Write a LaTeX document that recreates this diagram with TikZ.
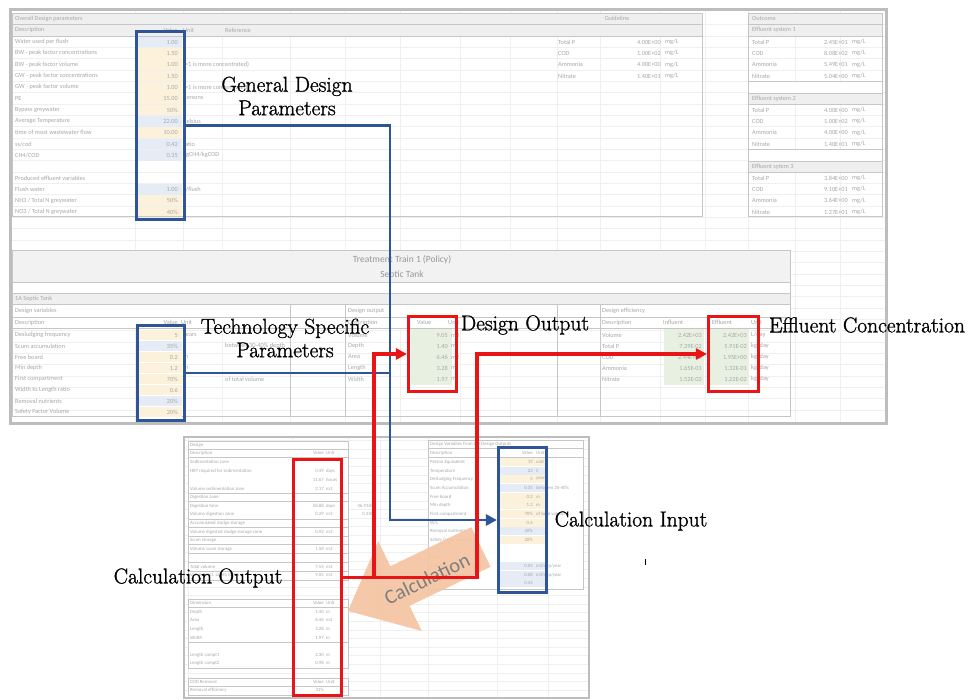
\documentclass[tikz,border=0pt]{standalone}
\usepackage{fontspec}
\usetikzlibrary{arrows.meta}
\newfontfamily\xl{Carlito}
\newfontfamily\lblfont{Latin Modern Roman}[FakeBold=1.2]
\definecolor{txt}{HTML}{A8A8A8}
\definecolor{hdr}{HTML}{EFEFEF}
\definecolor{bdr}{HTML}{C6C6C6}
\definecolor{frm}{HTML}{BDBDBD}
\definecolor{grd}{HTML}{EFEFEF}
\definecolor{yel}{HTML}{FCF1DA}
\definecolor{blu}{HTML}{E5ECF5}
\definecolor{grn}{HTML}{E8F1E1}
\definecolor{bluebox}{HTML}{2E5597}
\definecolor{redbox}{HTML}{E81416}
\definecolor{peach}{HTML}{F5C3A0}
\definecolor{calc}{HTML}{7E7E7E}
\newcommand\ra[4]{\node[cl] at (15,#1) {#2}; \node[cr] at (178,#1) {#3}; \node[cl] at (183,#1) {#4};}
\newcommand\rb[4]{\node[cls] at (190,#1) {#2}; \node[crs] at (324,#1) {#3}; \node[cls] at (326,#1) {#4};}
\newcommand\rc[4]{\node[cls] at (430,#1) {#2}; \node[crs] at (533,#1) {#3}; \node[cls] at (536,#1) {#4};}
\newcommand\ro[3]{\node[cl] at (752,#1) {#2}; \node[cr] at (848,#1) {#3}; \node[cl] at (852,#1) {mg/L};}
\begin{document}
\begin{tikzpicture}[x=1pt,y=-1pt,
  cl/.style={font=\xl\fontsize{6.3}{7}\selectfont,text=txt,inner sep=0pt,anchor=west},
  cr/.style={cl,anchor=east},
  cc/.style={cl,anchor=center},
  cls/.style={font=\xl\fontsize{4.8}{5}\selectfont,text=txt,inner sep=0pt,anchor=west},
  crs/.style={cls,anchor=east},
  grid/.style={draw=grd,line width=0.4pt},
  bd/.style={draw=bdr,line width=0.7pt},
  lbl/.style={font=\lblfont\fontsize{21.5}{23.5}\selectfont,text=black,align=center,inner sep=0pt},
  bbox/.style={draw=bluebox,line width=3.2pt,inner sep=0pt},
  rbox/.style={draw=redbox,line width=3.2pt,inner sep=0pt},
  bconn/.style={draw=bluebox,line width=2.8pt,-{Triangle[length=11pt,width=11pt]}},
  rconn/.style={draw=redbox,line width=3.2pt,-{Triangle[length=11pt,width=11pt]}},
  ]
\useasboundingbox (0,0) rectangle (968,700);
\fill[white] (0,0) rectangle (968,700);

% ===== main screenshot =====
\begin{scope}
\clip (11,11) rectangle (886,422);
\foreach \x in {135,183,222,290,345,400,460,510,557,600,660,705,748,795,840}
  \draw[grid] (\x,11) -- (\x,422);
\foreach \k in {0,...,34}
  \draw[grid] (11,{24.7+11.33*\k}) -- (886,{24.7+11.33*\k});
\end{scope}

% panel 1: overall design parameters
\fill[hdr] (12,13) rectangle (702,36);
\draw[bd] (12,24.5) -- (702,24.5) (12,36) -- (702,36);
\foreach \y/\c in {42/blu,53.3/yel,64.7/yel,76/yel,87.3/yel,98.7/yel,110/yel,121.3/blu,132.7/yel,144/blu,155.3/blu,189.3/blu,200.7/yel,212/yel}
  \fill[\c] (137,\y-5.4) rectangle (182,\y+5.4);
\draw[bd] (12,13) rectangle (702,216);
\node[cl] at (15,18.7) {Overall Design parameters};
\node[cc] at (617,18.7) {Guideline};
\node[cl] at (15,30.3) {Description};
\node[cr] at (178,30.3) {Value};
\node[cl] at (183,30.3) {Unit};
\node[cl] at (225,30.3) {Reference};
\ra{42}{Water used per flush}{1.00}{}
\ra{53.3}{BW - peak factor concentrations}{1.50}{}
\ra{64.7}{BW - peak factor volume}{1.00}{(>1 is more concentrated)}
\ra{76}{GW - peak factor concentrations}{1.50}{}
\ra{87.3}{GW - peak factor volume}{1.00}{(>1 is more concentrated)}
\ra{98.7}{PE}{15.00}{persons}
\ra{110}{Bypass greywater}{50\%}{}
\ra{121.3}{Average Temperature}{22.00}{Celsius}
\ra{132.7}{time of most wastewater flow}{10.00}{h}
\ra{144}{ss/cod}{0.42}{ratio}
\ra{155.3}{CH4/COD}{0.35}{kgCH4/kgCOD}
\ra{178}{Produced effluent variables}{}{}
\ra{189.3}{Flush water}{1.00}{L/flush}
\ra{200.7}{NH3 / Total N greywater}{50\%}{}
\ra{212}{NO3 / Total N greywater}{40\%}{}
\foreach \y/\a/\b in {42/Total P/4.00E+00,53.3/COD/1.00E+02,64.7/Ammonia/4.00E+00,76/Nitrate/1.40E+01}{
  \node[cl] at (558,\y) {\a}; \node[cr] at (661,\y) {\b}; \node[cl] at (665,\y) {mg/L};}

% outcome panel
\fill[hdr] (748,13) rectangle (882,36);
\fill[hdr] (748,93) rectangle (882,104);
\fill[hdr] (748,161) rectangle (882,172);
\fill[white] (748,81) rectangle (882,93);
\fill[white] (748,149.5) rectangle (882,161);
\draw[bd] (748,13) rectangle (882,216);
\foreach \y in {24.5,36,81,93,104,149.5,161,172} \draw[bd] (748,\y) -- (882,\y);
\node[cl] at (752,18.7) {Outcome};
\node[cl] at (752,30.3) {Effluent system 1};
\ro{42}{Total P}{2.45E+01}
\ro{53.3}{COD}{8.08E+02}
\ro{64.7}{Ammonia}{5.49E+01}
\ro{76}{Nitrate}{5.04E+00}
\node[cl] at (752,98.7) {Effluent system 2};
\ro{110}{Total P}{4.00E+00}
\ro{121.3}{COD}{1.00E+02}
\ro{132.7}{Ammonia}{4.00E+00}
\ro{144}{Nitrate}{1.40E+01}
\node[cl] at (752,166.7) {Effluent sytem 3};
\ro{178}{Total P}{3.84E+00}
\ro{189.3}{COD}{9.10E+01}
\ro{200.7}{Ammonia}{3.64E+00}
\ro{212}{Nitrate}{1.27E+01}

% treatment train
\fill[hdr!80!white] (12,250) rectangle (790,282);
\fill[white] (12,282) rectangle (790,293);
\fill[hdr] (12,293) rectangle (790,304);
\fill[white] (12,304) rectangle (790,328);
\draw[bd] (12,250) rectangle (790,416);
\foreach \y in {282,293,304,317,328} \draw[bd] (12,\y) -- (790,\y);
\foreach \x in {290,345,557,600} \draw[bd] (\x,304) -- (\x,416);
\node[cc,font=\xl\fontsize{9.5}{10}\selectfont,text=txt!90!black] at (402,260) {Treatment Train 1 (Policy)};
\node[cc,font=\xl\fontsize{9.5}{10}\selectfont,text=txt!90!black] at (402,275) {Septic Tank};
\node[cl] at (15,299) {1A Septic Tank};
\node[cl] at (15,311) {Design variables};
\node[cl] at (348,311) {Design output};
\node[cl] at (602,311) {Design efficiency};
\node[cl] at (15,322.5) {Description};
\node[cr] at (178,322.5) {Value};
\node[cl] at (181,322.5) {Unit};
\node[cl] at (348,322.5) {Description};
\node[cl] at (417,322.5) {Value};
\node[cl] at (448,322.5) {Unit};
\node[cl] at (602,322.5) {Description};
\node[cl] at (663,322.5) {Influent};
\node[cl] at (712,322.5) {Effluent};
\node[cl] at (751,322.5) {Unit};
% value fills
\foreach \y/\c in {335/yel,346/blu,357/yel,368/yel,379/yel,390/yel,401/blu,412/yel}
  \fill[\c] (138,\y-5.4) rectangle (182,\y+5.4);
\fill[grn] (411,329) rectangle (452,385);
\fill[grn] (664,329) rectangle (704,385);
\fill[grn] (709,329) rectangle (749,385);
\ra{335}{Desludging frequency}{5}{years}
\ra{346}{Scum accumulation}{35\%}{}
\ra{357}{Free board}{0.2}{m}
\ra{368}{Min depth}{1.2}{m}
\ra{379}{First compartment}{70\%}{}
\ra{390}{Width to Length ratio}{0.6}{}
\ra{401}{Removal nutrients}{20\%}{}
\ra{412}{Safety Factor Volume}{20\%}{}
\node[cl] at (225,346) {between 30-40\% depth};
\node[cl] at (225,379) {of total volume};
\foreach \y/\a/\b/\u in {335/Volume/9.05/m3,346/Depth/1.40/m,357/Area/6.46/m2,368/Length/3.28/m,379/Width/1.97/m}{
  \node[cl] at (348,\y) {\a}; \node[cr] at (448,\y) {\b}; \node[cl] at (451,\y) {\u};}
\foreach \y/\a/\b/\c/\u in {335/Volume/2.42E+03/2.42E+03/L{/}day,346/Total P/7.39E-02/5.91E-02/kg{/}day,357/COD/2.44E+00/1.95E+00/kg{/}day,368/Ammonia/1.65E-01/1.32E-01/kg{/}day,379/Nitrate/1.52E-02/1.22E-02/kg{/}day}{
  \node[cl] at (602,\y) {\a}; \node[cr] at (702,\y) {\b}; \node[cr] at (747,\y) {\c}; \node[cl] at (751,\y) {\u};}

% outer frame of main screenshot
\draw[frm,line width=3pt] (10,10) rectangle (886,423);

% ===== bottom screenshot =====
\fill[white] (184,437) rectangle (589,698);
\begin{scope}
\clip (184,437) rectangle (589,698);
\foreach \x in {188,292,348,380,428,497,548}
  \draw[grid] (\x,437) -- (\x,698);
\foreach \k in {0,...,30}
  \draw[grid] (184,{440.5+8.6*\k}) -- (589,{440.5+8.6*\k});
\end{scope}
% left tables
\fill[white] (188,441) rectangle (348,580);
\fill[white] (188,599) rectangle (348,668);
\fill[white] (188,678) rectangle (348,695);
\draw[bd] (188,441) rectangle (348,580);
\foreach \y in {449,457.5,493,501.5,519,527.5,536,544.5,553,562,571} \draw[bd,line width=0.5pt] (188,\y) -- (348,\y);
\draw[bd] (188,599) rectangle (348,668);
\draw[bd,line width=0.5pt] (188,607.5) -- (348,607.5) (188,642) -- (348,642);
\draw[bd] (188,678) rectangle (348,695);
\draw[bd,line width=0.5pt] (188,686.5) -- (348,686.5);
\node[cls] at (190,445) {Design};
\rb{453}{Description}{Value}{Unit}
\rb{462}{Sedimentation zone}{}{}
\rb{471}{HRT required for sedimentation}{0.49}{days}
\rb{480}{}{11.67}{hours}
\rb{489}{Volume sedimentation zone}{2.17}{m3}
\rb{497}{Digestion zone}{}{}
\rb{506}{Digestion time}{58.88}{days}
\rb{514}{Volume digestion zone}{0.29}{m3}
\rb{523}{Accumulated sludge storage}{}{}
\rb{532}{Volume digested sludge storage zone}{0.92}{m3}
\rb{540}{Scum storage}{}{}
\rb{549}{Volume scum storage}{1.58}{m3}
\rb{567}{Total volume}{7.54}{m3}
\rb{575}{Volume incl. safety factor}{9.05}{m3}
\node[crs] at (376,506) {46.91846};
\node[crs] at (376,514) {0.3506};
\rb{603}{Dimension}{Value}{Unit}
\rb{612}{Depth}{1.40}{m}
\rb{620}{Area}{6.46}{m2}
\rb{629}{Length}{3.28}{m}
\rb{638}{Width}{1.97}{m}
\rb{655}{Length compt1}{2.30}{m}
\rb{663}{Length compt2}{0.98}{m}
\rb{682}{COD Removal}{Value}{Unit}
\rb{690}{Removal efficiency}{31\%}{}
% right table
\fill[white] (428,440) rectangle (583,589);
\foreach \y/\c in {462/yel,471/blu,479/yel,488/blu,497/yel,505/yel,514/yel,523/yel,531/blu,540/yel,566/blu,575/blu,583/blu}
  \fill[\c] (500,\y-4.3) rectangle (545,\y+4.3);
\draw[bd] (428,440) rectangle (583,589);
\draw[bd,line width=0.5pt] (428,448.5) -- (583,448.5) (428,457.5) -- (583,457.5);
\node[cls] at (430,444) {Design Variables from the Design Outputs};
\rc{453}{Description}{Value}{Unit}
\rc{462}{Person Equivalent}{15}{unit}
\rc{471}{Temperature}{22}{C}
\rc{479}{Desludging Frequency}{5}{years}
\rc{488}{Scum Accumulation}{0.35}{between 30-40\%}
\rc{497}{Free board}{0.2}{m}
\rc{505}{Min depth}{1.2}{m}
\rc{514}{First compartment}{70\%}{of total volume}
\rc{523}{W/L}{0.6}{}
\rc{531}{Removal nutrients}{20\%}{}
\rc{540}{Safety factor volume}{20\%}{}
\rc{557}{Flow}{}{}
\rc{566}{Sludge accumulation rate}{0.04}{m3/cap/year}
\rc{575}{Scum accumulation rate}{0.08}{m3/cap/year}
\rc{583}{}{0.42}{}
\draw[frm,line width=2.5pt] (184,437) rectangle (589,698);

% ===== calculation arrow =====
\fill[peach,opacity=0.9] (471.4,527.2) -- (390.4,566.2) -- (378.3,541) -- (348,611) -- (421.8,631) -- (409.6,605.8) -- (490.6,566.8) -- cycle;
\node[rotate=26,font=\xl\fontsize{20.5}{22}\selectfont,text=calc,inner sep=0pt] (calc) at (427,579) {Calculation};

% ===== highlight boxes =====
\node[bbox,minimum width=48,minimum height=188] (gbox) at (160.5,125.5) {};
\node[bbox,minimum width=47,minimum height=95] (tbox) at (161,373) {};
\node[bbox,minimum width=48,minimum height=145] (cin) at (522.5,520) {};
\node[rbox,minimum width=48,minimum height=236] (cout) at (317.5,577.5) {};
\node[rbox,minimum width=48,minimum height=75] (dout) at (432.5,354) {};
\node[rbox,minimum width=50,minimum height=75] (eff) at (733.5,354) {};

% connectors
\coordinate (bv) at (390,125.5);
\coordinate (rv1) at (374,0);
\coordinate (rv2) at (477,0);
\draw[bconn] (gbox.east) -- (bv) |- (cin.west);
\draw[draw=bluebox,line width=2.8pt] (tbox.east) -- (tbox.east -| bv);
\draw[rconn] (cout.east) -- (cout.east -| rv2) |- (eff.west);
\draw[rconn] (cout.east -| rv1) |- (dout.west);

% labels
\node[lbl] (lg) at (287,96) {General Design\\Parameters};
\node[lbl] (lt) at (285,338) {Technology Specific\\Parameters};
\node[lbl] (ld) at (525,325) {Design Output};
\node[lbl] (le) at (867,325) {Effluent Concentration};
\node[lbl] (li) at (631,521) {Calculation Input};
\node[lbl] (lo) at (198,578) {Calculation Output};

\draw[black,line width=0.6pt] (645,559) -- (645,565);
\end{tikzpicture}
\end{document}
